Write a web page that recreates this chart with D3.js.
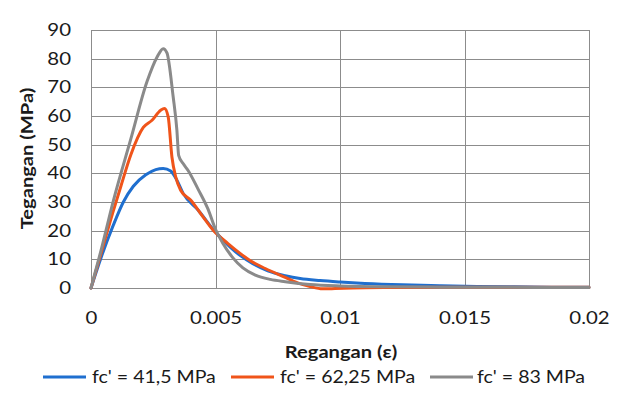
<!DOCTYPE html>
<html>
<head>
<meta charset="utf-8">
<script src="https://cdn.jsdelivr.net/npm/d3@7"></script>
<style>
  html, body { margin: 0; padding: 0; background: #fff; }
  svg { display: block; font-family: Lato, "Open Sans", sans-serif; }
</style>
</head>
<body>
<svg id="chart" width="624" height="406"></svg>
<script>
// ---- data ----
const seriesNames = ["fc' = 41,5 MPa", "fc' = 62,25 MPa", "fc' = 83 MPa"];
const seriesColors = ["#1f6fcf", "#f0541a", "#8a8a8a"];

const strain415 = [0, 0.0004, 0.0009, 0.0013, 0.0017, 0.0022, 0.0026, 0.0029, 0.0032, 0.00345, 0.0037, 0.0043, 0.0049, 0.0056, 0.006, 0.0065, 0.0071, 0.0078, 0.0084, 0.0092, 0.01, 0.011, 0.0125, 0.014, 0.0155, 0.017, 0.0185, 0.02];
const stress415 = [0, 10.5, 22, 30, 35.5, 39.5, 41.3, 41.7, 40.8, 37.6, 33, 27.2, 20.5, 14.2, 11.3, 8.5, 6, 4.3, 3.3, 2.6, 2.1, 1.6, 1.1, 0.8, 0.55, 0.4, 0.3, 0.25];

const strain6225 = [0, 0.0004, 0.0009, 0.0012, 0.0016, 0.0021, 0.00245, 0.0028, 0.00295, 0.0031, 0.00325, 0.0034, 0.0036, 0.004, 0.0045, 0.0049, 0.0055, 0.006, 0.0064, 0.007, 0.00775, 0.0083, 0.0088, 0.0093, 0.0098, 0.0105, 0.012, 0.014, 0.016, 0.018, 0.02];
const stress6225 = [0, 12, 27, 35.5, 46.5, 56, 58.5, 62, 62.6, 59.7, 45.7, 38.8, 34.1, 30.7, 24.8, 20.2, 15.5, 12, 9.5, 6.8, 3.9, 1.8, 0.5, -0.3, -0.2, 0, 0.2, 0.3, 0.3, 0.3, 0.3];

const strain83 = [0, 0.0004, 0.0009, 0.0016, 0.00225, 0.00265, 0.0029, 0.00305, 0.0033, 0.00345, 0.00352, 0.0037, 0.0039, 0.0043, 0.0047, 0.005, 0.0053, 0.0057, 0.0061, 0.0066, 0.0072, 0.0078, 0.0088, 0.01, 0.012, 0.014, 0.016, 0.018, 0.02];
const stress83 = [0, 13, 30.5, 52, 72, 80.5, 83.5, 82, 66.7, 55, 46.3, 43.4, 41, 34.5, 27.5, 20.5, 15.5, 10.5, 7, 4.5, 3, 2.2, 1.2, 0.7, 0.4, 0.3, 0.25, 0.2, 0.2];

const xTicks = [0, 0.005, 0.01, 0.015, 0.02];
const xTickLabels = ["0", "0.005", "0.01", "0.015", "0.02"];
const yTicks = [0, 10, 20, 30, 40, 50, 60, 70, 80, 90];

const xTitle = "Regangan (ε)";
const yTitle = "Tegangan (MPa)";

// ---- build ----
const series = [
  { name: seriesNames[0], color: seriesColors[0], pts: strain415.map((e, i) => [e, stress415[i]]) },
  { name: seriesNames[1], color: seriesColors[1], pts: strain6225.map((e, i) => [e, stress6225[i]]) },
  { name: seriesNames[2], color: seriesColors[2], pts: strain83.map((e, i) => [e, stress83[i]]) }
];

const SX_TICK = 1.2, SX_TITLE = 1.22, SX_LEG = 1.15;
const svg = d3.select("#chart");
const m = { left: 91, right: 589, top: 30, bottom: 288 };
const x = d3.scaleLinear().domain([0, 0.02]).range([m.left, m.right]);
const y = d3.scaleLinear().domain([0, 90]).range([m.bottom, m.top]);

const gridColor = "#8c8c8c";

svg.append("g").selectAll("line").data(yTicks).join("line")
  .attr("x1", m.left).attr("x2", m.right)
  .attr("y1", d => Math.round(y(d)) + 0.5).attr("y2", d => Math.round(y(d)) + 0.5)
  .attr("stroke", gridColor).attr("stroke-width", 1);

svg.append("g").selectAll("line").data(xTicks).join("line")
  .attr("y1", m.top).attr("y2", m.bottom)
  .attr("x1", d => Math.round(x(d)) + 0.5).attr("x2", d => Math.round(x(d)) + 0.5)
  .attr("stroke", gridColor).attr("stroke-width", 1);

// axes (labels only)
const yAxis = d3.axisLeft(y).tickValues(yTicks).tickSize(0).tickPadding(0).tickFormat(d3.format("d"));
const gy = svg.append("g").attr("transform", `translate(${m.left - 20},0)`).call(yAxis);
gy.select(".domain").remove();
gy.selectAll("text").attr("font-size", 17).attr("fill", "#1a1a1a").attr("font-family", "Lato, sans-serif")
  .attr("x", 0).attr("transform", `scale(${SX_TICK},1)`);

const xAxis = d3.axisBottom(x).tickValues(xTicks).tickSize(0).tickPadding(0).tickFormat((d, i) => xTickLabels[i]);
const gx = svg.append("g").attr("transform", `translate(0,312)`).call(xAxis);
gx.select(".domain").remove();
gx.selectAll("text").attr("font-size", 17).attr("fill", "#1a1a1a").attr("font-family", "Lato, sans-serif")
  .attr("transform", `scale(${SX_TICK},1)`);

// lines
const line = d3.line().x(d => x(d[0])).y(d => y(d[1])).curve(d3.curveMonotoneX);
svg.append("g").selectAll("path").data(series).join("path")
  .attr("d", d => line(d.pts))
  .attr("fill", "none")
  .attr("stroke", d => d.color)
  .attr("stroke-width", 3)
  .attr("stroke-linejoin", "round")
  .attr("stroke-linecap", "round");

// titles
svg.append("text")
  .attr("transform", `translate(341,358) scale(${SX_TITLE},1)`)
  .attr("text-anchor", "middle")
  .attr("font-size", 16.5).attr("font-weight", "bold").attr("fill", "#1a1a1a")
  .text(xTitle);

svg.append("text")
  .attr("transform", `translate(33,158.5) rotate(-90) scale(${SX_TITLE},1)`)
  .attr("text-anchor", "middle")
  .attr("font-size", 16.5).attr("font-weight", "bold").attr("fill", "#1a1a1a")
  .text(yTitle);

// legend
const legendX = [43, 231, 430];
const legendText = [92, 280, 477];
const lg = svg.append("g").selectAll("g").data(series).join("g");
lg.append("line").attr("x1", (d, i) => legendX[i]).attr("x2", (d, i) => legendX[i] + 43)
  .attr("y1", 377).attr("y2", 377)
  .attr("stroke", d => d.color).attr("stroke-width", 3);
lg.append("text")
  .attr("transform", (d, i) => `translate(${legendText[i]},383) scale(${SX_LEG},1)`)
  .attr("font-size", 17).attr("fill", "#1a1a1a")
  .text(d => d.name);
</script>
</body>
</html>
